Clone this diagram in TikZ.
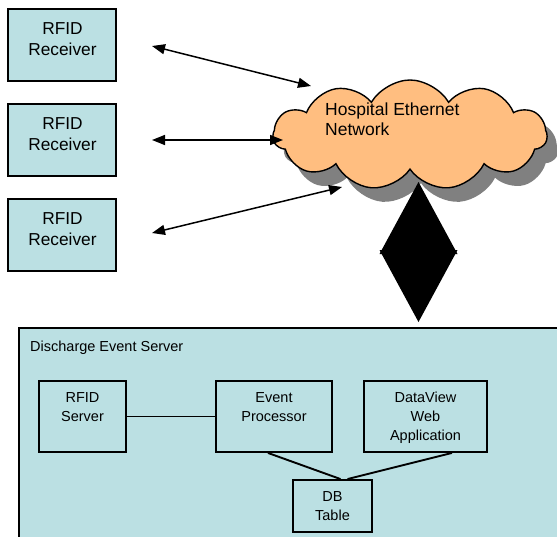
\documentclass[tikz,border=0pt]{standalone}
\usepackage{fontspec}
\setmainfont{Liberation Sans}
\usetikzlibrary{shapes.symbols,arrows.meta}
\definecolor{boxfill}{RGB}{187,224,227}
\definecolor{cloudfill}{RGB}{255,190,128}
\definecolor{shadowgray}{RGB}{128,128,128}
\begin{document}
\begin{tikzpicture}[x=1pt,y=-1pt,
  box/.style={draw=black, line width=1.9pt, fill=boxfill, rectangle, inner sep=0pt},
  lbl/.style={align=center, font=\fontsize{14.5}{19}\selectfont, inner sep=0pt},
  rlbl/.style={align=center, font=\fontsize{17.3}{21.5}\selectfont, inner sep=0pt},
  clbl/.style={align=left, font=\fontsize{17.5}{20.7}\selectfont, inner sep=0pt},
  cloudshape/.style={cloud, cloud puffs=11, cloud puff arc=120, aspect=2.4, minimum width=274pt, minimum height=110pt, inner sep=0pt},
  link/.style={line width=1.9pt},
  dbl/.style={line width=1.5pt, {Triangle[length=13pt,width=10pt]}-{Triangle[length=13pt,width=10pt]}}]
\useasboundingbox (0,0) rectangle (557,536);
\clip (0,0) rectangle (557,536);

% receivers
\node[box, minimum width=108pt, minimum height=72pt] (r1) at (62.3,45) {};
\node[rlbl] (r1t) at (62.5,39.3) {RFID\\Receiver};
\node[box, minimum width=108pt, minimum height=72pt] (r2) at (62.3,140) {};
\node[rlbl] (r2t) at (62.5,134.3) {RFID\\Receiver};
\node[box, minimum width=108pt, minimum height=72pt] (r3) at (62.3,235) {};
\node[rlbl] (r3t) at (62.5,229.3) {RFID\\Receiver};

% cloud
\node[cloudshape, fill=shadowgray] (cloudshadow) at (421,149) {};
\node[cloudshape, draw=black, line width=1.4pt, fill=cloudfill] (cloud) at (410,135) {};
\node[clbl, anchor=west] (cloudt) at (325,119.2) {Hospital Ethernet\\Network};

% arrows
\coordinate (a1l) at (152,46);  \coordinate (a1r) at (311,86);
\coordinate (a2l) at (152,140); \coordinate (a2r) at (283,140);
\coordinate (a3l) at (152,233); \coordinate (a3r) at (342,187);
\draw[dbl] (a1l) -- (a1r);
\draw[dbl] (a2l) -- (a2r);
\draw[dbl] (a3l) -- (a3r);

% big double arrow
\coordinate (dtop) at (418.5,182);
\coordinate (dbot) at (418.5,322);
\fill (dtop) -- (379.5,254) -- (457.5,254) -- cycle;
\fill (dbot) -- (379.5,250) -- (457.5,250) -- cycle;

% server
\node[box, minimum width=546pt, minimum height=214pt] (srv) at (292,435) {};
\node[font=\fontsize{14.5}{19}\selectfont, inner sep=0pt, anchor=base west] (srvt) at (30,351) {Discharge Event Server};

\node[box, minimum width=87pt, minimum height=71pt] (rs) at (82.5,416.5) {};
\node[lbl] (rst) at (82.5,407) {RFID\\Server};
\node[box, minimum width=116pt, minimum height=71pt] (ep) at (274,416.5) {};
\node[lbl] (ept) at (274,407) {Event\\Processor};
\node[box, minimum width=123pt, minimum height=71pt] (dv) at (425.5,416.5) {};
\node[lbl] (dvt) at (425.5,418) {DataView\\Web\\Application};
\node[box, minimum width=79pt, minimum height=52pt] (db) at (332.5,506) {};
\node[lbl] (dbt) at (332.5,506) {DB\\Table};

\draw[link] (rs.east) -- (ep.west);
\draw[link] ([xshift=-6pt]ep.south) -- ([xshift=8pt]db.north);
\draw[link] ([xshift=26.5pt]dv.south) -- ([xshift=15pt]db.north);
\end{tikzpicture}
\end{document}
